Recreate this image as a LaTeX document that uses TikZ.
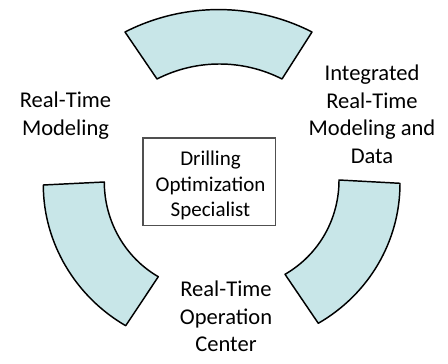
\documentclass[tikz,border=0pt]{standalone}
\usepackage{fontspec}
\setmainfont{Carlito}
\usetikzlibrary{positioning}

\definecolor{arcfill}{RGB}{200,230,232}
\definecolor{boxline}{RGB}{80,80,80}

\begin{document}
\begin{tikzpicture}[x=0.75pt,y=0.75pt,yscale=-1,xscale=1,
  sector/.style={draw=black,fill=arcfill,line width=1.1pt,line join=round},
  lbl/.style={inner sep=0pt,align=center,font=\fontsize{16.9}{20.6}\selectfont},
  specbox/.style={draw=boxline,line width=1.3pt,minimum width=99.4pt,minimum height=65.6pt,inner sep=0pt}]
\useasboundingbox (0,0) rectangle (448,363);

%Shape: Block Arc [top]
\draw [sector] (125,32) .. controls (183.6,2.1) and (253.4,2.1) .. (312,32) -- (282,79) .. controls (242.7,59) and (196.3,59) .. (157,79) -- cycle ;
%Shape: Block Arc [left]
\draw [sector] (43.3,185) .. controls (43.3,242.9) and (75.6,296.7) .. (125.7,325.7) -- (158.3,276.7) .. controls (124.7,257.3) and (104.3,220.8) .. (104.3,182) -- cycle ;
%Shape: Block Arc [right]
\draw [sector] (339,180) -- (400,183.3) .. controls (400,241.5) and (368.7,294.2) .. (318.3,323.3) -- (285,274.3) .. controls (318.9,254.7) and (339,219.1) .. (339,180) -- cycle ;

%Shape: Rectangle [centre]
\node [specbox] (spec) at (209.2,181.8) {};

% Text Node
\node [lbl,font=\fontsize{15.75}{19.2}\selectfont] (spectext) at (210.5,185.7) {Drilling\\Optimization\\Specialist};
% Text Node
\node [lbl] (rtmodel) at (65.5,115.5) {Real-Time\\Modeling};
% Text Node
\node [lbl] (intmodel) at (372,114.3) {Integrated\\Real-Time\\Modeling and\\Data};
% Text Node
\node [lbl] (rtcenter) at (226,316.7) {Real-Time\\Operation\\Center};

\end{tikzpicture}
\end{document}
